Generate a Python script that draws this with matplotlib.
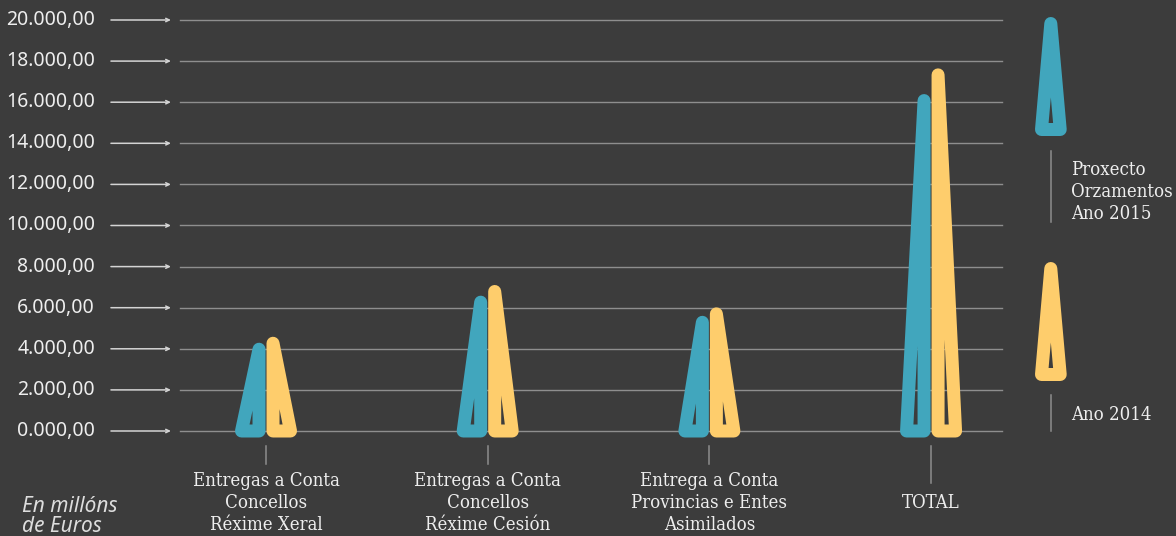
import matplotlib.pyplot as plt
import matplotlib.transforms as mtransforms
from matplotlib.patches import Polygon

# --- data (millóns de euros) ---
categories = ['Entregas a Conta\nConcellos\nRéxime Xeral',
              'Entregas a Conta\nConcellos\nRéxime Cesión',
              'Entrega a Conta\nProvincias e Entes\nAsimilados',
              'TOTAL']
values_2015 = [3980, 6270, 5290, 16080]
values_2014 = [4270, 6790, 5700, 17330]
y_ticks = [0, 2000, 4000, 6000, 8000, 10000, 12000, 14000, 16000, 18000, 20000]
y_tick_labels = ['0.000,00', '2.000,00', '4.000,00', '6.000,00', '8.000,00',
                 '10.000,00', '12.000,00', '14.000,00', '16.000,00',
                 '18.000,00', '20.000,00']
series_labels = ['Proxecto\nOrzamentos\nAno 2015', 'Ano 2014']

# --- style ---
bg = '#3c3c3c'
blue = '#41a6bd'
yellow = '#fecd6c'
grid_col = '#8e8e8e'
text_col = '#eeeeee'
serif = dict(family='DejaVu Serif', fontstretch='condensed')
sans = 'Noto Sans'

W, H = 1176, 536


def fx(px):
    return px / W


def fy(py):
    return 1 - py / H


def ya(py):
    # pixel row -> axes fraction (axes spans rows 431 .. 20)
    return (431 - py) / 411.0


fig = plt.figure(figsize=(W / 100, H / 100), dpi=100, facecolor=bg)
ax = fig.add_axes([fx(180), fy(431), fx(1002) - fx(180), fy(20) - fy(431)])
ax.set_facecolor('none')
ax.set_xlim(-0.388, 3.320)
ax.set_ylim(0, 20000)
ax.axis('off')

px_per_cat = 221.67
off = 7 / px_per_cat
bw = 17.5 / px_per_cat
stroke = 13 * 0.72

# gridlines
for v in y_ticks:
    ax.axhline(v, color=grid_col, lw=1.0, zorder=1, clip_on=False)

yblend = mtransforms.blended_transform_factory(ax.transAxes, ax.transData)
for v, lab in zip(y_ticks, y_tick_labels):
    ax.annotate('', xy=(-0.011, v), xytext=(-0.084, v),
                xycoords=yblend, textcoords=yblend, annotation_clip=False,
                arrowprops=dict(arrowstyle='->,head_length=0.25,head_width=0.12',
                                color='#d4d4d4', lw=1.1, shrinkA=0, shrinkB=0))
    ax.text(-0.1034, v, lab, transform=yblend, ha='right', va='center',
            fontsize=14, color=text_col, family=sans)

# spikes
for i, (b, y) in enumerate(zip(values_2015, values_2014)):
    tri_b = Polygon([(i - off - bw, 0), (i - off, 0), (i - off, b)], closed=True,
                    fill=False, edgecolor=blue, lw=stroke, joinstyle='round',
                    clip_on=False, zorder=3)
    tri_y = Polygon([(i + off, 0), (i + off + bw, 0), (i + off, y)], closed=True,
                    fill=False, edgecolor=yellow, lw=stroke, joinstyle='round',
                    clip_on=False, zorder=3)
    ax.add_patch(tri_b)
    ax.add_patch(tri_y)

# category ticks and labels
xblend = mtransforms.blended_transform_factory(ax.transData, ax.transAxes)
for i, cat in enumerate(categories):
    bottom = 483 if cat == 'TOTAL' else 464
    ax.plot([i, i], [ya(446), ya(bottom)], transform=xblend, color=grid_col,
            lw=1.1, clip_on=False)
    ax.text(i, ya(503), cat, transform=xblend, ha='center', va='center',
            fontsize=13.3, color=text_col, linespacing=1.3, **serif)

# legend
def legend_icon(top, color):
    pts = [(1041.5, top + 112.5), (1060.2, top + 112.5), (1050.8, top + 6.5)]
    fig.add_artist(Polygon([(fx(x), fy(y)) for x, y in pts], closed=True,
                           fill=False, edgecolor=color, lw=stroke,
                           joinstyle='round', transform=fig.transFigure))


legend_icon(17, blue)
legend_icon(262, yellow)
fig.add_artist(plt.Line2D([fx(1051), fx(1051)], [fy(151), fy(222)],
                          color=grid_col, lw=1.1, transform=fig.transFigure))
fig.add_artist(plt.Line2D([fx(1051), fx(1051)], [fy(395), fy(431)],
                          color=grid_col, lw=1.1, transform=fig.transFigure))
fig.text(fx(1071), fy(192), series_labels[0], ha='left', va='center',
         fontsize=13.3, color=text_col, linespacing=1.3, **serif)
fig.text(fx(1071), fy(415), series_labels[1], ha='left', va='center',
         fontsize=13.3, color=text_col, **serif)

# unit note
fig.text(fx(22), fy(496), 'En millóns\nde Euros', ha='left', va='top',
         fontsize=15, style='italic', color='#dddddd', family=sans,
         linespacing=0.95)

fig.savefig('out.png', dpi=100, facecolor=bg)
